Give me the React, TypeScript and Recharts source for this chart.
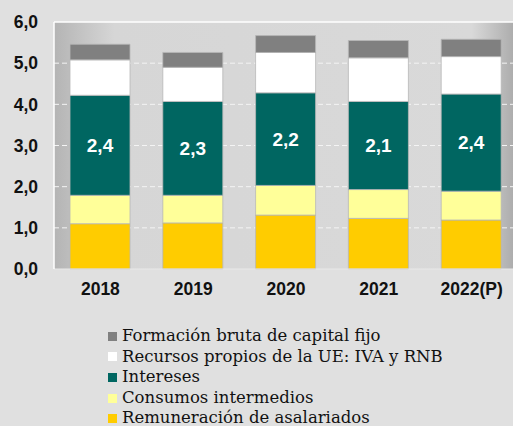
import { Bar, BarChart, CartesianGrid, LabelList, Legend, ReferenceLine, XAxis, YAxis } from "recharts";

const years = ["2018", "2019", "2020", "2021", "2022(P)"];
const remuneracion = [1.1, 1.12, 1.31, 1.23, 1.19];
const consumos = [0.69, 0.67, 0.72, 0.7, 0.7];
const intereses = [2.43, 2.28, 2.25, 2.14, 2.36];
const interesesLabels = ["2,4", "2,3", "2,2", "2,1", "2,4"];
const recursos = [0.86, 0.83, 0.98, 1.06, 0.91];
const fbcf = [0.38, 0.36, 0.41, 0.42, 0.42];
const yTicks = [0, 1, 2, 3, 4, 5, 6];

// stack order bottom -> top
const series = [
  { key: "rem", name: "Remuneración de asalariados", color: "#ffcc00" },
  { key: "con", name: "Consumos intermedios", color: "#ffff99" },
  { key: "int", name: "Intereses", color: "#006661" },
  { key: "rec", name: "Recursos propios de la UE: IVA y RNB", color: "#ffffff" },
  { key: "fbc", name: "Formación bruta de capital fijo", color: "#808080" },
];

const data = years.map((y, i) => ({
  year: y,
  rem: remuneracion[i],
  con: consumos[i],
  int: intereses[i],
  intLabel: interesesLabels[i],
  rec: recursos[i],
  fbc: fbcf[i],
}));

const axisFont = { fontSize: 17.5, fontWeight: 700, fontFamily: "'Liberation Sans', Arial, sans-serif", fill: "#111" };
const serif = "'DejaVu Serif', 'Liberation Serif', serif";

function LegendBox() {
  const items = [...series].reverse();
  return (
    <div style={{ fontFamily: serif, fontSize: 16.5, color: "#111", lineHeight: "20.6px" }}>
      {items.map((s) => (
        <div key={s.key} style={{ display: "flex", alignItems: "center", height: 20.6, whiteSpace: "nowrap" }}>
          <span style={{ width: 9, height: 9, background: s.color, marginRight: 5, flex: "none" }} />
          <span style={{ fontFamily: serif }}>{s.name}</span>
        </div>
      ))}
    </div>
  );
}

export default function App() {
  return (
    <div style={{ position: "absolute", left: 0, top: 0, width: 513, height: 426, overflow: "hidden", background: "#e0e0e0" }}>
      <BarChart width={520} height={426} data={data} margin={{ top: 22, right: 2, left: 0, bottom: 116 }} barSize={60}>
        <defs>
          <linearGradient id="plotBg" x1="0" y1="0" x2="1" y2="0">
            <stop offset="0" stopColor="#b4b4b4" />
            <stop offset="0.13" stopColor="#d6d6d6" />
            <stop offset="0.9" stopColor="#d9d9d9" />
            <stop offset="1" stopColor="#a8a8a8" />
          </linearGradient>
        </defs>
        <CartesianGrid
          vertical={false}
          stroke="#f4f4f4"
          strokeDasharray="5 3"
          fill="url(#plotBg)"
          fillOpacity={1}
          horizontalValues={[1, 2, 3, 4, 5]}
        />
        <XAxis
          dataKey="year"
          height={41}
          tick={axisFont}
          tickLine={false}
          tickSize={0}
          tickMargin={14}
          axisLine={{ stroke: "#e8e8e8" }}
        />
        <YAxis
          width={54}
          domain={[0, 6]}
          ticks={yTicks}
          tickFormatter={(v: number) => v.toFixed(1).replace(".", ",")}
          tick={axisFont}
          tickLine={false}
          tickSize={0}
          tickMargin={16}
          axisLine={{ stroke: "#ffffff", strokeWidth: 1.5 }}
          interval={0}
        />
        <ReferenceLine y={6} stroke="#ffffff" strokeWidth={1.5} />
        {series.map((s) => (
          <Bar
            key={s.key}
            dataKey={s.key}
            name={s.name}
            stackId="a"
            fill={s.color}
            stroke="#b8b8b8"
            strokeWidth={0.8}
            isAnimationActive={false}
          >
            {s.key === "int" && (
              <LabelList
                dataKey="intLabel"
                position="center"
                fill="#ffffff"
                style={{ fontSize: 19, fontWeight: 700, fontFamily: "'Liberation Sans', Arial, sans-serif" }}
              />
            )}
          </Bar>
        ))}
        <Legend
          layout="vertical"
          align="center"
          verticalAlign="middle"
          content={() => <LegendBox />}
          wrapperStyle={{ left: 108, top: 326, width: 400, height: 105 }}
        />
      </BarChart>
    </div>
  );
}
